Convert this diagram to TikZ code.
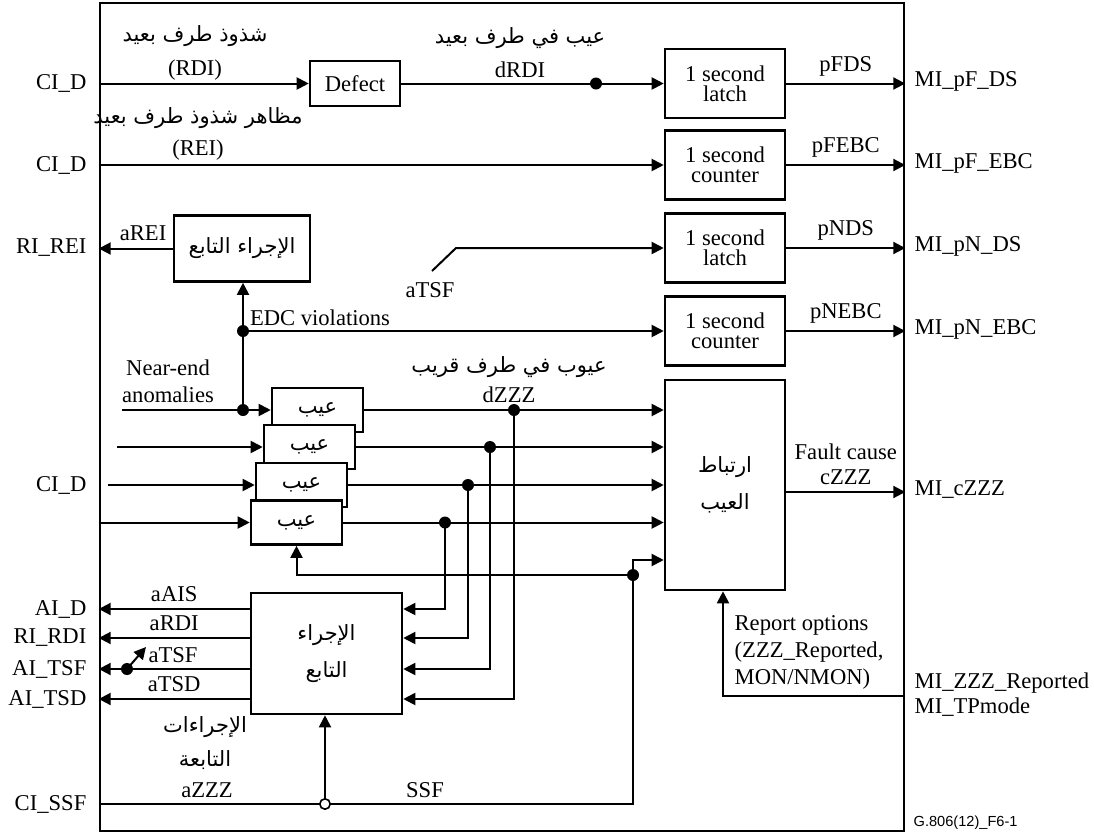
\documentclass[tikz,border=0pt]{standalone}
\usepackage{fontspec}
\setmainfont{Liberation Serif}
\newfontfamily\arabicfont[Script=Arabic]{DejaVu Sans}
\newfontfamily\tagfont{Liberation Sans}
\TeXXeTstate=1
\usetikzlibrary{arrows.meta,positioning}
\newcommand{\lblfont}{\fontsize{11.3}{13.5}\selectfont}
\newcommand{\artext}[1]{{\arabicfont\fontsize{10.5}{13}\selectfont\beginR #1\endR}}

\begin{document}
\begin{tikzpicture}[x=0.5pt,y=-0.5pt,>={Triangle[length=6pt,width=6pt]},
  line width=1pt,font=\lblfont,
  blk/.style={draw,line width=1.3pt,fill=white,inner sep=0pt,align=center},
  secbox/.style={blk,minimum width=60pt,minimum height=34.5pt,
    font=\fontsize{11.3}{9.8}\selectfont},
  defbox/.style={blk,minimum width=45.5pt,minimum height=22pt}]
 \useasboundingbox (0,0) rectangle (1094,836);
 \node[draw,line width=1.3pt,inner sep=0pt,minimum width=402pt,
  minimum height=414pt] (frame) at (502,417) {};
 % boxes
 \node[blk,minimum width=45pt,minimum height=22.5pt] (defect) at (355,83.5) {Defect};
 \node[secbox] (latchA) at (725,83.5) {1 second\\latch};
 \node[secbox] (countA) at (725,165) {1 second\\counter};
 \node[secbox] (latchB) at (725,248) {1 second\\latch};
 \node[secbox] (countB) at (725,331) {1 second\\counter};
 \node[blk,minimum width=60pt,minimum height=105pt] (corr) at (725,485)
  {\artext{ارتباط}\\[5pt]\artext{العيب}};
 \node[blk,minimum width=68pt,minimum height=33pt] (actA) at (242,248.5)
  {\artext{الإجراء التابع}};
 \node[blk,minimum width=75.5pt,minimum height=60.5pt] (actB) at (326.5,653.5)
  {\artext{الإجراء}\\[5pt]\artext{التابع}};
 \foreach \n/\x/\y in {A/317.5/410,B/309.5/447,C/301.5/485,D/296.5/522.5}
  {\node[defbox] (def\n) at (\x,\y) {\artext{عيب}};}
 % junctions
 \coordinate (rdiJ) at (596,83.5);
 \coordinate (edc) at (243,331);
 \coordinate (nea) at (243,410);
 \coordinate (jA) at (514,410); \coordinate (jB) at (490,447);
 \coordinate (jC) at (468,485); \coordinate (jD) at (445,522.5);
 \coordinate (ssfJ) at (633,575);
 \coordinate (ssfT) at (325,804);
 \coordinate (tsfJ) at (127,669);
 \coordinate (rep) at (723,696);
 % far end
 \draw[->] (frame.west |- defect) -- (defect.west);
 \draw (defect.east) -- (rdiJ);
 \draw[->] (rdiJ) -- (latchA.west);
 \draw[->] (frame.west |- countA) -- (countA.west);
 \draw[->] (latchA.east) -- (frame.east |- latchA) node[midway,above] {pFDS};
 \draw[->] (countA.east) -- (frame.east |- countA) node[midway,above] {pFEBC};
 \draw[->] (latchB.east) -- (frame.east |- latchB) node[midway,above] {pNDS};
 \draw[->] (countB.east) -- (frame.east |- countB) node[midway,above] {pNEBC};
 \draw[->] (432,271) coordinate (tsfIn) -- (456,248) -- (latchB.west);
 \draw[->] (actA.west) -- (frame.west |- actA) node[pos=.4,above] {aREI};
 % near end
 \draw[->] (122,410) coordinate (neIn) -- (defA.west);
 \draw[->] (nea) -- (edc) -- (nea |- actA.south);
 \draw[->] (edc) -- (countB.west);
 \draw[->] (117,447) -- (defB.west);
 \draw[->] (108,485) -- (defC.west);
 \draw[->] (frame.west |- defD) -- (defD.west);
 \foreach \n in {A,B,C,D}
  {\draw[->] (def\n.east) -- (corr.west |- def\n);}
 \foreach \j/\y in {A/699,B/669,C/638,D/609}
  {\draw[->] (j\j) -- (j\j |- 0,\y) -- (actB.east |- 0,\y);}
 \draw[->] (actB.west |- 0,609) -- (frame.west |- 0,609) node[midway,above] {aAIS};
 \draw[->] (actB.west |- 0,638) -- (frame.west |- 0,638) node[midway,above] {aRDI};
 \draw[->] (actB.west |- 0,669) -- (frame.west |- 0,669);
 \draw[->] (actB.west |- 0,699) -- (frame.west |- 0,699) node[midway,above] {aTSD};
 \draw[->] (tsfJ) -- (146,647);
 % SSF
 \draw (frame.west |- ssfT) -- (ssfT -| ssfJ) -- (ssfJ);
 \draw[->] (ssfJ) -- (defD.south |- ssfJ) -- (defD.south);
 \draw[->] (ssfJ) -- (ssfJ |- 0,560) -- (corr.west |- 0,560);
 \draw[->] (ssfT) -- (ssfT |- actB.south);
 % fault cause, report
 \draw[->] (corr.east |- 0,492) -- (frame.east |- 0,492)
  node[midway,above,align=center,font=\fontsize{11.3}{12.5}\selectfont] {Fault cause\\cZZZ};
 \draw[->] (frame.east |- rep) -- (rep) -- (rep |- corr.south);
 \foreach \p in {rdiJ,edc,nea,jA,jB,jC,jD,ssfJ,tsfJ}
  {\fill (\p) circle (3pt);}
 \filldraw[fill=white,line width=.8pt] (ssfT) circle (2.6pt);
 % labels
 \node at (195,36) {\artext{شذوذ طرف بعيد}};
 \node at (195,70) {(RDI)};
 \node at (520,38) {\artext{عيب في طرف بعيد}};
 \node at (520,70) {dRDI};
 \node at (198,118) {\artext{مظاهر شذوذ طرف بعيد}};
 \node at (198,150) {(REI)};
 \node at (430,290) {aTSF};
 \node at (320,318) {EDC violations};
 \node at (168,368) {Near-end};
 \node at (168,395) {anomalies};
 \node at (509,367) {\artext{عيوب في طرف قريب}};
 \node at (509,395) {dZZZ};
 \node at (173,655) {aTSF};
 \node at (205,727) {\artext{الإجراءات}};
 \node at (205,760) {\artext{التابعة}};
 \node at (207,790) {aZZZ};
 \node at (425,790) {SSF};
 \node[anchor=west,align=left,font=\fontsize{11.3}{13.5}\selectfont] at (727,652)
  {Report options\\(ZZZ\_Reported,\\MON/NMON)};
 % ports
 \foreach \y/\t in {83.5/CI\_D,165/CI\_D,248/RI\_REI,485/CI\_D,609/AI\_D,
  638/RI\_RDI,669/AI\_TSF,699/AI\_TSD,804/CI\_SSF}
  {\node[anchor=east] at (94,\y) {\t};}
 \foreach \y/\t in {81/MI\_pF\_DS,163/MI\_pF\_EBC,246/MI\_pN\_DS,329/MI\_pN\_EBC,
  490/MI\_cZZZ,683/MI\_ZZZ\_Reported,707/MI\_TPmode}
  {\node[anchor=west] at (907,\y) {\t};}
 \node[anchor=west,font=\tagfont\fontsize{7.3}{8}\selectfont] at (906,823) {G.806(12)\_F6-1};
\end{tikzpicture}
\end{document}
